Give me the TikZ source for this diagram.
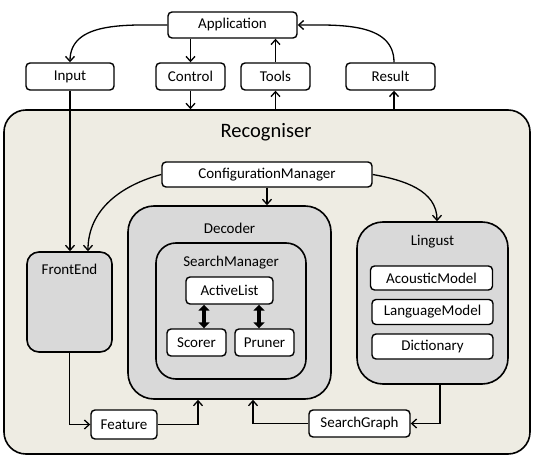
\documentclass[tikz,border=0pt]{standalone}
\usepackage{fontspec}
\setmainfont{Carlito}
\usetikzlibrary{arrows.meta}
\definecolor{recbg}{HTML}{EEECE3}
\definecolor{boxgray}{HTML}{D9D9D9}
\begin{document}
\begin{tikzpicture}[x=1pt,y=-1pt,
  every node/.style={font=\fontsize{15}{18}\selectfont},
  sbox/.style={draw=black,line width=1.4pt,fill=white,rounded corners=4pt,inner sep=0pt},
  container/.style={draw=black,line width=1.6pt,fill=boxgray,inner sep=0pt},
  title/.style={inner sep=0pt},
  arr/.style={line width=1.3pt,-{Straight Barb[length=5pt,width=9pt]}},
  dbl/.style={line width=3.6pt,{Triangle[length=6pt,width=11pt]}-{Triangle[length=6pt,width=11pt]}}]
\useasboundingbox (0,0) rectangle (535,457);
% Recogniser
\node[draw=black,line width=1.6pt,fill=recbg,rounded corners=22pt,inner sep=0pt,minimum width=526pt,minimum height=344pt] (rec) at (267,282) {};
\node[title,font=\fontsize{20.5}{24}\selectfont] (rect) at (266,132) {Recogniser};
% top boxes
\node[sbox,minimum width=129pt,minimum height=26pt] (app) at (232.5,25) {Application};
\node[sbox,minimum width=88pt,minimum height=27pt] (inp) at (70,76.5) {Input};
\node[sbox,minimum width=69pt,minimum height=27pt] (ctl) at (190.5,76.5) {Control};
\node[sbox,minimum width=69pt,minimum height=27pt] (tls) at (275.5,76.5) {Tools};
\node[sbox,minimum width=89pt,minimum height=27pt] (res) at (390.5,76.5) {Result};
% configuration manager
\node[sbox,minimum width=210pt,minimum height=25pt] (cm) at (267,174.5) {ConfigurationManager};
% FrontEnd
\node[container,rounded corners=12pt,minimum width=85pt,minimum height=100pt] (fe) at (69.5,302) {};
\node[title] (fet) at (69.5,269) {FrontEnd};
% Decoder
\node[container,rounded corners=26pt,minimum width=203pt,minimum height=193pt] (dec) at (229.5,302.5) {};
\node[title] (dect) at (229.5,228) {Decoder};
\node[container,rounded corners=20pt,minimum width=150pt,minimum height=136pt] (sm) at (231,311) {};
\node[title] (smt) at (231,263) {SearchManager};
\node[sbox,minimum width=87pt,minimum height=27pt] (al) at (229.5,290.5) {ActiveList};
\node[sbox,minimum width=59pt,minimum height=27pt] (sc) at (196.5,342.5) {Scorer};
\node[sbox,minimum width=59pt,minimum height=27pt] (pr) at (264.5,342.5) {Pruner};
% Lingust
\node[container,rounded corners=26pt,minimum width=151pt,minimum height=162pt] (ling) at (432.5,303) {};
\node[title] (lingt) at (432.5,242) {Lingust};
\node[sbox,minimum width=122pt,minimum height=24pt] (am) at (431.5,278) {AcousticModel};
\node[sbox,minimum width=121pt,minimum height=25pt] (lm) at (432.5,312) {LanguageModel};
\node[sbox,minimum width=121pt,minimum height=25pt] (dic) at (432.5,346.5) {Dictionary};
% bottom boxes
\node[sbox,minimum width=66pt,minimum height=29pt] (feat) at (124,424.5) {Feature};
\node[sbox,minimum width=101pt,minimum height=27pt] (sg) at (359.5,423.5) {SearchGraph};
% coordinates
\coordinate (r1) at ([xshift=3.5]res.north);
\coordinate (r2) at ([xshift=3.5]res.south);
\coordinate (d1) at ([xshift=-31.5]dec.south);
\coordinate (d2) at ([xshift=23.5]dec.south);
\coordinate (l1) at ([xshift=7.5]ling.south);
\coordinate (f1) at ([xshift=18.5]fe.north);
\coordinate (c1) at ([xshift=4.5]ling.north);
\coordinate (a1) at ([xshift=-25.5]al.south);
\coordinate (a2) at ([xshift=29.5]al.south);
% connectors top
\draw[arr] (app.west) to[out=180,in=90] (inp.north);
\draw[arr] (ctl.north |- app.south) -- (ctl.north);
\draw[arr] (tls.north) -- (tls.north |- app.south);
\draw[arr] (r1) to[out=90,in=0] (app.east);
\draw[arr] (ctl.south) -- (ctl.south |- rec.north);
\draw[arr] (tls.south |- rec.north) -- (tls.south);
\draw[arr] (r2 |- rec.north) -- (r2);
\draw[arr] (inp.south) -- (inp.south |- fe.north);
% inside
\draw[arr] (cm.west) to[out=195,in=90] (f1);
\draw[arr] (cm.south) -- (cm.south |- dec.north);
\draw[arr] (cm.east) to[out=-10,in=90] (c1);
\draw[dbl] (a1) -- (a1 |- sc.north);
\draw[dbl] (a2) -- (a2 |- pr.north);
\draw[arr] (fe.south) |- (feat.west);
\draw[arr] (feat.east) -| (d1);
\draw[arr] (sg.west) -| (d2);
\draw[arr] (l1) |- (sg.east);
\end{tikzpicture}
\end{document}
